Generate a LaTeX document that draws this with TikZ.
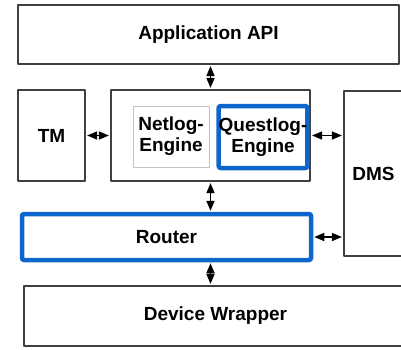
\documentclass[tikz,border=0pt]{standalone}
\usepackage{fontspec}
\setmainfont{Liberation Sans}
\usetikzlibrary{arrows.meta}
\definecolor{boxgray}{RGB}{64,64,64}
\definecolor{qblue}{RGB}{12,102,204}
\definecolor{faintgray}{RGB}{195,195,195}
\begin{document}
\begin{tikzpicture}[x=1pt,y=-1pt,line join=round,>={Triangle[length=10pt,width=8pt]},
		font=\fontsize{19}{21}\selectfont\bfseries,
		blk/.style={draw=boxgray,line width=2.2pt,inner sep=0pt,align=center},
		hot/.style={draw=qblue,line width=4.5pt,rounded corners=2pt,inner sep=0pt,align=center},
		faint/.style={draw=faintgray,line width=0.8pt,inner sep=0pt,align=center},
		link/.style={<->,line width=1.5pt,shorten <=1pt,shorten >=1pt}]
	\useasboundingbox (0,0) rectangle (401,349);
	% layers
	\node (api) [blk,minimum width=381,minimum height=59] at (208.5,34.5) {Application API};
	\node (tm) [blk,minimum width=67,minimum height=91] at (51.5,135.5) {TM};
	\node (core) [blk,minimum width=199,minimum height=91] at (210.5,135.5) {};
	\node (netlog) [faint,minimum width=76,minimum height=61] at (171,136.5) {Netlog-\\Engine};
	\node (questlog) [hot,minimum width=86,minimum height=62] at (263,137) {Questlog-\\Engine};
	\node (dms) [blk,minimum width=59,minimum height=165] at (373.5,173.5) {DMS};
	\node (router) [hot,minimum width=289,minimum height=46] at (166.5,237) {Router};
	\node (device) [blk,minimum width=383,minimum height=60] at (215.5,316) {Device Wrapper};
	% links
	\draw[link] (core.north |- api.south) -- (core.north);
	\draw[link] (tm.east) -- (core.west);
	\draw[link] (core.east) -- (core.east -| dms.west);
	\draw[link] (core.south) -- (core.south |- router.north);
	\draw[link] (router.east) -- (router.east -| dms.west);
	\draw[link] (core.south |- router.south) -- (core.south |- device.north);
\end{tikzpicture}
\end{document}
